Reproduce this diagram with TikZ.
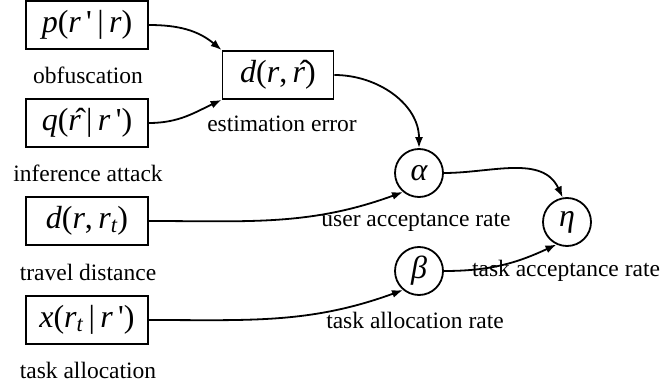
\documentclass[tikz,border=0pt]{standalone}
\usepackage{fontspec}
\setmainfont{Liberation Serif}
\usetikzlibrary{arrows.meta}
\newcommand{\mi}[1]{{\itshape #1}}
\newcommand{\prm}{\,\textquotesingle}
\begin{document}
\begin{tikzpicture}[x=1pt,y=1pt,
  box/.style={draw,line width=1.8pt,minimum width=122pt,minimum height=48pt,inner sep=0pt,font=\fontsize{32}{34}\selectfont},
  circ/.style={draw,circle,line width=1.8pt,minimum size=48pt,inner sep=0pt,font=\fontsize{32}{34}\selectfont\itshape},
  lbl/.style={font=\fontsize{23.5}{26}\selectfont,inner sep=0pt},
  conn/.style={line width=1.8pt,-{Latex[length=11pt,width=8pt]}}]
\useasboundingbox (0,0) rectangle (663,-387);
\node[box] (p) at (87,-25) {\mi{p}(\mi{r}\prm\,|\,\mi{r})};
\node[box] (q) at (87,-123) {\mi{q}(\^{\mi{r}}\,|\,\mi{r}\prm)};
\node[box,minimum width=111pt] (d) at (278,-75) {\mi{d}(\mi{r},\,\^{\mi{r}})};
\node[box] (dt) at (87,-221) {\mi{d}(\mi{r},\,\mi{r\textsubscript{t}})};
\node[box] (x) at (87,-320) {\mi{x}(\mi{r\textsubscript{t}}\,|\,\mi{r}\prm)};
\node[circ] (a) at (419,-173) {α};
\node[circ] (e) at (567,-222) {η};
\node[circ] (b) at (419,-271) {β};
\node[lbl] (l1) at (88,-75) {obfuscation};
\node[lbl] (l2) at (88,-173) {inference attack};
\node[lbl] (l3) at (282,-124) {estimation error};
\node[lbl] (l4) at (88,-272) {travel distance};
\node[lbl] (l5) at (88,-370) {task allocation};
\node[lbl] (l6) at (416,-222) {user acceptance rate};
\node[lbl] (l7) at (566,-271) {task acceptance rate};
\node[lbl] (l8) at (415,-320) {task allocation rate};
\draw[conn] (p.east) to[out=0,in=140] (d.north west);
\draw[conn] (q.east) to[out=0,in=205] (d.south west);
\draw[conn] (d.east) to[out=0,in=90] (a.north);
\draw[conn] (dt.east) to[out=0,in=200] (a.230);
\draw[conn] (x.east) to[out=0,in=200] (b.230);
\draw[conn] (a.east) to[out=0,in=115] (e.100);
\draw[conn] (b.east) to[out=0,in=205] (e.245);
\end{tikzpicture}
\end{document}
